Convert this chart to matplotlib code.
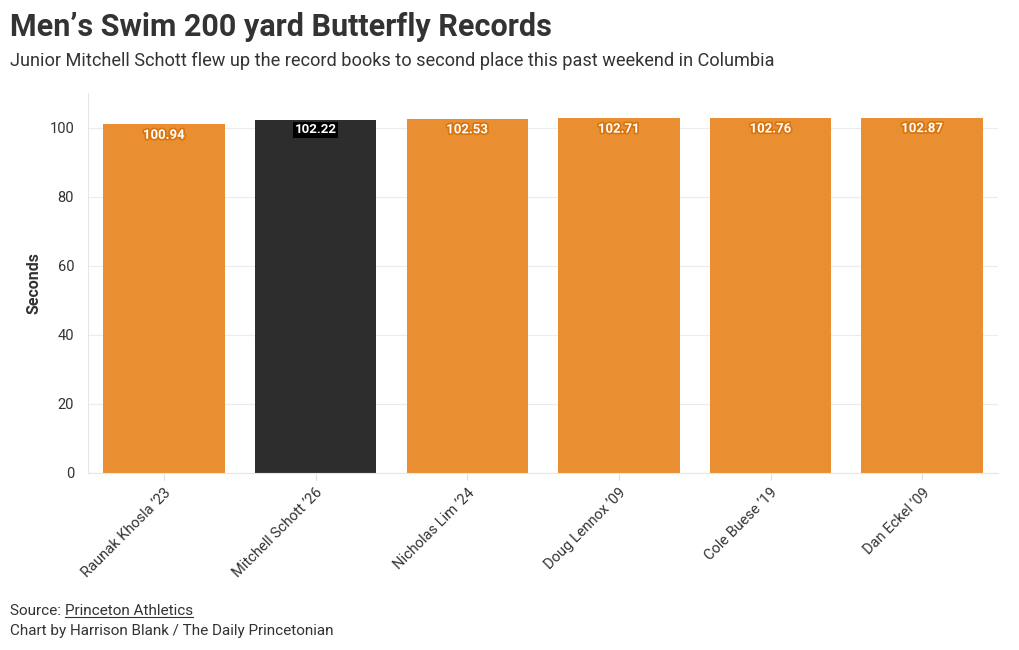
import matplotlib
matplotlib.use("Agg")
import matplotlib.pyplot as plt
import matplotlib.patheffects as pe

swimmers = ["Raunak Khosla \u201923", "Mitchell Schott \u201926", "Nicholas Lim \u201924",
            "Doug Lennox \u201909", "Cole Buese \u201919", "Dan Eckel \u201909"]
times = [100.94, 102.22, 102.53, 102.71, 102.76, 102.87]
highlight = "Mitchell Schott \u201926"
yticks = [0, 20, 40, 60, 80, 100]

ORANGE = "#ea8f31"
DARK = "#2d2d2d"
TXT = "#333333"

plt.rcParams['font.family'] = ['Roboto', 'DejaVu Sans']

fig = plt.figure(figsize=(10.2, 6.5), dpi=100)
ax = fig.add_axes([88/1020, 1-473/650, (998-88)/1020, (473-93)/650])

colors = [DARK if s == highlight else ORANGE for s in swimmers]
x = list(range(len(swimmers)))
bars = ax.bar(x, times, width=0.8, color=colors, zorder=2)

for xi, s, v in zip(x, swimmers, times):
    if s == highlight:
        ax.text(xi, v - 1.0, f"{v:.2f}", ha='center', va='top', color='white',
                fontsize=9.5, fontweight='bold', zorder=3,
                bbox=dict(boxstyle='square,pad=0.1', fc='black', ec='none'))
    else:
        ax.text(xi, v - 1.3, f"{v:.2f}", ha='center', va='top', color='white',
                fontsize=9.5, fontweight='bold', zorder=3,
                path_effects=[pe.withStroke(linewidth=2.5, foreground="#d9740f")])

ax.set_xlim(-0.5, len(swimmers) - 0.5)
ax.set_ylim(0, 110)
ax.set_yticks(yticks)
ax.set_xticks(x)
ax.set_xticklabels(swimmers, rotation=45, ha='right', rotation_mode='anchor',
                   fontsize=10.5, color=TXT)
ax.tick_params(axis='y', labelsize=10.5, labelcolor=TXT, length=0, pad=10)
ax.tick_params(axis='x', length=5, color='#dddddd', pad=4)
ax.grid(axis='y', color='#ececec', linewidth=0.8, zorder=0)
for sp in ['top', 'right']:
    ax.spines[sp].set_visible(False)
ax.spines['left'].set_color('#e6e6e6')
ax.spines['bottom'].set_color('#e6e6e6')
ax.set_ylabel("Seconds", fontsize=11.5, fontweight='bold', color=TXT, labelpad=6)

fig.text(10/1020, 1-27/650, "Men\u2019s Swim 200 yard Butterfly Records", fontsize=22,
         fontweight='bold', color=TXT, va='center', ha='left')
fig.text(10/1020, 1-61/650, "Junior Mitchell Schott flew up the record books to second place this past weekend in Columbia",
         fontsize=13.1, color=TXT, va='center', ha='left')
src = fig.text(10/1020, 1-611/650, "Source: ", fontsize=11, color=TXT, va='center', ha='left')
fig.canvas.draw()
bb = src.get_window_extent()
lnk = fig.text(bb.x1/1020, 1-611/650, "Princeton Athletics", fontsize=11, color=TXT,
               va='center', ha='left')
fig.canvas.draw()
lb = lnk.get_window_extent()
fig.add_artist(plt.Line2D([lb.x0/1020, lb.x1/1020], [(lb.y0+1)/650, (lb.y0+1)/650],
                          color=TXT, linewidth=0.8))
fig.text(10/1020, 1-631/650, "Chart by Harrison Blank / The Daily Princetonian",
         fontsize=11, color=TXT, va='center', ha='left')

fig.savefig("out.png", dpi=100)
